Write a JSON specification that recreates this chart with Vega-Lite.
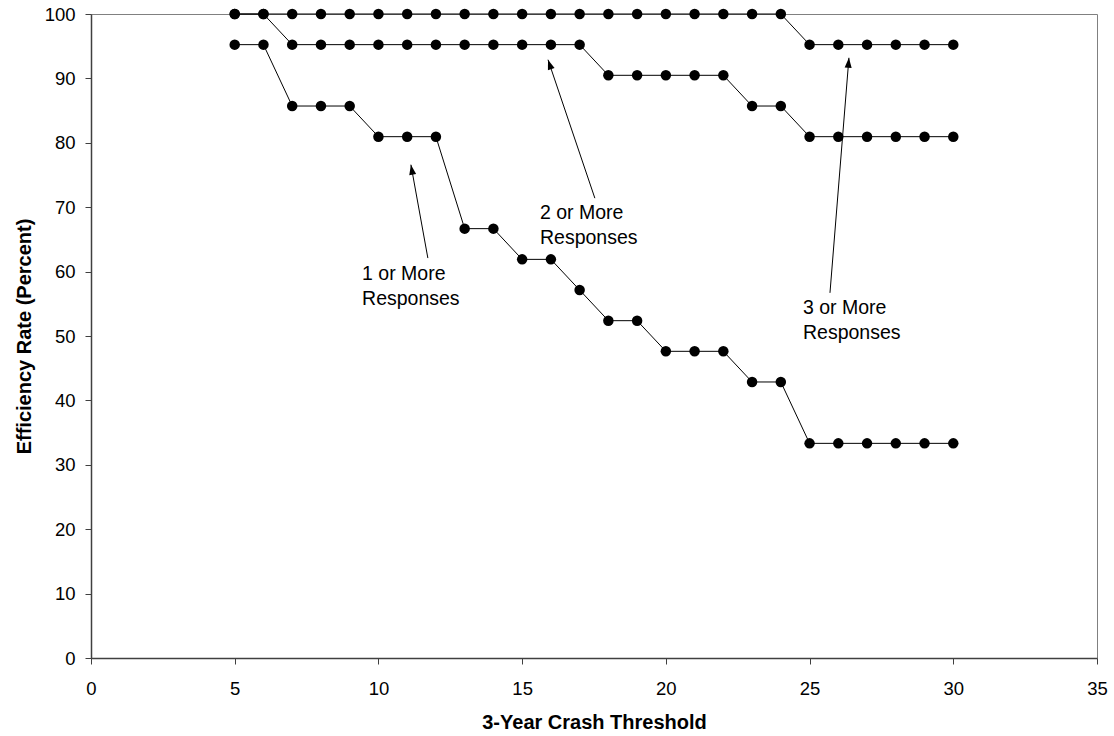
{
  "$schema": "https://vega.github.io/schema/vega-lite/v6.json",
  "width": 1006,
  "height": 644,
  "autosize": {"type": "none"},
  "padding": {"left": 91, "top": 14, "right": 17, "bottom": 78},
  "background": "white",
  "config": {
    "font": "Liberation Sans",
    "view": {"stroke": "#808080", "strokeWidth": 1},
    "axis": {
      "grid": false,
      "labelFlush": false,
      "labelOverlap": false,
      "domainColor": "#404040",
      "domainWidth": 1.5,
      "tickColor": "#404040",
      "tickSize": 6,
      "tickWidth": 1,
      "labelColor": "black",
      "labelFontSize": 18.5,
      "labelFont": "Liberation Sans",
      "titleFont": "Liberation Sans",
      "titleFontSize": 20,
      "titleFontWeight": "bold",
      "titleColor": "black"
    }
  },
  "datasets": {
    "series": [
      {"series": "1 or more", "threshold": 5, "rate": 95.24},
      {"series": "1 or more", "threshold": 6, "rate": 95.24},
      {"series": "1 or more", "threshold": 7, "rate": 85.71},
      {"series": "1 or more", "threshold": 8, "rate": 85.71},
      {"series": "1 or more", "threshold": 9, "rate": 85.71},
      {"series": "1 or more", "threshold": 10, "rate": 80.95},
      {"series": "1 or more", "threshold": 11, "rate": 80.95},
      {"series": "1 or more", "threshold": 12, "rate": 80.95},
      {"series": "1 or more", "threshold": 13, "rate": 66.67},
      {"series": "1 or more", "threshold": 14, "rate": 66.67},
      {"series": "1 or more", "threshold": 15, "rate": 61.9},
      {"series": "1 or more", "threshold": 16, "rate": 61.9},
      {"series": "1 or more", "threshold": 17, "rate": 57.14},
      {"series": "1 or more", "threshold": 18, "rate": 52.38},
      {"series": "1 or more", "threshold": 19, "rate": 52.38},
      {"series": "1 or more", "threshold": 20, "rate": 47.62},
      {"series": "1 or more", "threshold": 21, "rate": 47.62},
      {"series": "1 or more", "threshold": 22, "rate": 47.62},
      {"series": "1 or more", "threshold": 23, "rate": 42.86},
      {"series": "1 or more", "threshold": 24, "rate": 42.86},
      {"series": "1 or more", "threshold": 25, "rate": 33.33},
      {"series": "1 or more", "threshold": 26, "rate": 33.33},
      {"series": "1 or more", "threshold": 27, "rate": 33.33},
      {"series": "1 or more", "threshold": 28, "rate": 33.33},
      {"series": "1 or more", "threshold": 29, "rate": 33.33},
      {"series": "1 or more", "threshold": 30, "rate": 33.33},
      {"series": "2 or more", "threshold": 5, "rate": 100},
      {"series": "2 or more", "threshold": 6, "rate": 100},
      {"series": "2 or more", "threshold": 7, "rate": 95.24},
      {"series": "2 or more", "threshold": 8, "rate": 95.24},
      {"series": "2 or more", "threshold": 9, "rate": 95.24},
      {"series": "2 or more", "threshold": 10, "rate": 95.24},
      {"series": "2 or more", "threshold": 11, "rate": 95.24},
      {"series": "2 or more", "threshold": 12, "rate": 95.24},
      {"series": "2 or more", "threshold": 13, "rate": 95.24},
      {"series": "2 or more", "threshold": 14, "rate": 95.24},
      {"series": "2 or more", "threshold": 15, "rate": 95.24},
      {"series": "2 or more", "threshold": 16, "rate": 95.24},
      {"series": "2 or more", "threshold": 17, "rate": 95.24},
      {"series": "2 or more", "threshold": 18, "rate": 90.48},
      {"series": "2 or more", "threshold": 19, "rate": 90.48},
      {"series": "2 or more", "threshold": 20, "rate": 90.48},
      {"series": "2 or more", "threshold": 21, "rate": 90.48},
      {"series": "2 or more", "threshold": 22, "rate": 90.48},
      {"series": "2 or more", "threshold": 23, "rate": 85.71},
      {"series": "2 or more", "threshold": 24, "rate": 85.71},
      {"series": "2 or more", "threshold": 25, "rate": 80.95},
      {"series": "2 or more", "threshold": 26, "rate": 80.95},
      {"series": "2 or more", "threshold": 27, "rate": 80.95},
      {"series": "2 or more", "threshold": 28, "rate": 80.95},
      {"series": "2 or more", "threshold": 29, "rate": 80.95},
      {"series": "2 or more", "threshold": 30, "rate": 80.95},
      {"series": "3 or more", "threshold": 5, "rate": 100},
      {"series": "3 or more", "threshold": 6, "rate": 100},
      {"series": "3 or more", "threshold": 7, "rate": 100},
      {"series": "3 or more", "threshold": 8, "rate": 100},
      {"series": "3 or more", "threshold": 9, "rate": 100},
      {"series": "3 or more", "threshold": 10, "rate": 100},
      {"series": "3 or more", "threshold": 11, "rate": 100},
      {"series": "3 or more", "threshold": 12, "rate": 100},
      {"series": "3 or more", "threshold": 13, "rate": 100},
      {"series": "3 or more", "threshold": 14, "rate": 100},
      {"series": "3 or more", "threshold": 15, "rate": 100},
      {"series": "3 or more", "threshold": 16, "rate": 100},
      {"series": "3 or more", "threshold": 17, "rate": 100},
      {"series": "3 or more", "threshold": 18, "rate": 100},
      {"series": "3 or more", "threshold": 19, "rate": 100},
      {"series": "3 or more", "threshold": 20, "rate": 100},
      {"series": "3 or more", "threshold": 21, "rate": 100},
      {"series": "3 or more", "threshold": 22, "rate": 100},
      {"series": "3 or more", "threshold": 23, "rate": 100},
      {"series": "3 or more", "threshold": 24, "rate": 100},
      {"series": "3 or more", "threshold": 25, "rate": 95.24},
      {"series": "3 or more", "threshold": 26, "rate": 95.24},
      {"series": "3 or more", "threshold": 27, "rate": 95.24},
      {"series": "3 or more", "threshold": 28, "rate": 95.24},
      {"series": "3 or more", "threshold": 29, "rate": 95.24},
      {"series": "3 or more", "threshold": 30, "rate": 95.24}
    ],
    "arrows": [
      {"label": "1", "fromX": 11.72, "fromY": 62.1, "toX": 11.13, "toY": 76.6},
      {"label": "2", "fromX": 17.53, "fromY": 71.4, "toX": 15.9, "toY": 92.9},
      {"label": "3", "fromX": 25.71, "fromY": 56.7, "toX": 26.37, "toY": 93.2}
    ],
    "notes": [
      {"x": 9.43, "y": 58.7, "text": "1 or More\nResponses"},
      {"x": 15.62, "y": 68.2, "text": "2 or More\nResponses"},
      {"x": 24.77, "y": 53.4, "text": "3 or More\nResponses"}
    ]
  },
  "layer": [
    {
      "data": {"name": "series"},
      "mark": {"type": "line", "color": "black", "strokeWidth": 1, "point": {"filled": true, "color": "black", "size": 110, "opacity": 1}},
      "encoding": {
        "x": {
          "field": "threshold", "type": "quantitative",
          "scale": {"domain": [0, 35], "nice": false, "zero": false},
          "axis": {"title": "3-Year Crash Threshold", "values": [0, 5, 10, 15, 20, 25, 30, 35], "labelPadding": 15, "titlePadding": 15}
        },
        "y": {
          "field": "rate", "type": "quantitative",
          "scale": {"domain": [0, 100], "nice": false},
          "axis": {"title": "Efficiency Rate (Percent)", "values": [0, 10, 20, 30, 40, 50, 60, 70, 80, 90, 100], "labelPadding": 10, "titlePadding": 10}
        },
        "detail": {"field": "series"}
      }
    },
    {
      "data": {"name": "arrows"},
      "mark": {"type": "rule", "color": "black", "strokeWidth": 1},
      "encoding": {
        "x": {"field": "fromX", "type": "quantitative"},
        "y": {"field": "fromY", "type": "quantitative"},
        "x2": {"field": "toX"},
        "y2": {"field": "toY"}
      }
    },
    {
      "data": {"name": "arrows"},
      "transform": [{"filter": "datum.label == '1'"}],
      "mark": {"type": "point", "shape": "M0,0L-0.35,1L0.35,1Z", "filled": true, "color": "black", "opacity": 1, "size": 400, "angle": 349.6},
      "encoding": {
        "x": {"field": "toX", "type": "quantitative"},
        "y": {"field": "toY", "type": "quantitative"}
      }
    },
    {
      "data": {"name": "arrows"},
      "transform": [{"filter": "datum.label == '2'"}],
      "mark": {"type": "point", "shape": "M0,0L-0.35,1L0.35,1Z", "filled": true, "color": "black", "opacity": 1, "size": 400, "angle": 341.2},
      "encoding": {
        "x": {"field": "toX", "type": "quantitative"},
        "y": {"field": "toY", "type": "quantitative"}
      }
    },
    {
      "data": {"name": "arrows"},
      "transform": [{"filter": "datum.label == '3'"}],
      "mark": {"type": "point", "shape": "M0,0L-0.35,1L0.35,1Z", "filled": true, "color": "black", "opacity": 1, "size": 400, "angle": 4.6},
      "encoding": {
        "x": {"field": "toX", "type": "quantitative"},
        "y": {"field": "toY", "type": "quantitative"}
      }
    },
    {
      "data": {"name": "notes"},
      "mark": {"type": "text", "align": "left", "baseline": "alphabetic", "font": "Liberation Sans", "fontSize": 19.5, "lineHeight": 25, "lineBreak": "\n", "color": "black"},
      "encoding": {
        "x": {"field": "x", "type": "quantitative"},
        "y": {"field": "y", "type": "quantitative"},
        "text": {"field": "text"}
      }
    }
  ]
}
